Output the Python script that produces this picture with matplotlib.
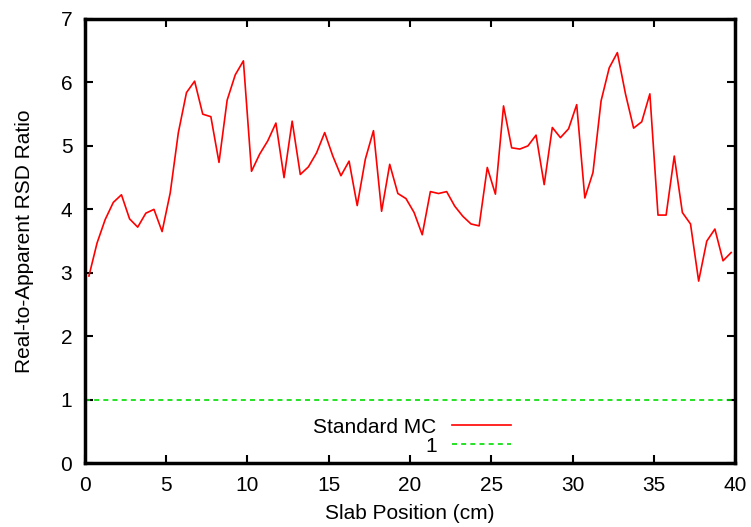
import numpy as np
import matplotlib.pyplot as plt

plt.rcParams['font.family'] = ['Liberation Sans', 'DejaVu Sans']

# slab bin centres (cm), 0.5 cm bins
slab_pos = np.arange(0.25, 40.0, 0.5)
standard_mc = [
    2.95, 3.47, 3.84, 4.11, 4.23, 3.85, 3.72, 3.94, 4.00, 3.65,
    4.26, 5.21, 5.84, 6.02, 5.50, 5.46, 4.74, 5.72, 6.12, 6.34,
    4.60, 4.87, 5.08, 5.36, 4.50, 5.39, 4.55, 4.67, 4.89, 5.21,
    4.84, 4.53, 4.76, 4.06, 4.79, 5.24, 3.97, 4.71, 4.25, 4.17,
    3.95, 3.60, 4.28, 4.25, 4.28, 4.05, 3.89, 3.77, 3.74, 4.66,
    4.24, 5.63, 4.97, 4.95, 5.00, 5.17, 4.39, 5.29, 5.13, 5.27,
    5.65, 4.18, 4.58, 5.71, 6.23, 6.47, 5.82, 5.28, 5.38, 5.82,
    3.91, 3.91, 4.84, 3.95, 3.77, 2.87, 3.50, 3.69, 3.19, 3.32,
]
reference_level = 1

fig = plt.figure(figsize=(7.51, 5.27), dpi=100)
ax = fig.add_axes([0.113, 0.121, 0.866, 0.843])

ax.plot(slab_pos, standard_mc, color='#ff0000', lw=1.2, label='Standard MC')
ax.axhline(reference_level, color='#00dd00', lw=1.2, ls=(0, (3, 2.5)),
           label='1')

ax.set_xlim(0, 40)
ax.set_ylim(0, 7)
ax.set_xticks(np.arange(0, 41, 5))
ax.set_yticks(np.arange(0, 8, 1))
ax.tick_params(direction='in', length=6, width=1.5, top=True, right=True,
               labelsize=15, pad=9)
for s in ax.spines.values():
    s.set_linewidth(2.5)

ax.set_xlabel('Slab Position (cm)', fontsize=15, labelpad=7)
ax.set_ylabel('Real-to-Apparent RSD Ratio', fontsize=15, labelpad=19)

ax.legend(loc='lower center', bbox_to_anchor=(0.503, -0.025),
          frameon=False, markerfirst=False, fontsize=15,
          handlelength=2.8, labelspacing=0.0, handletextpad=0.75)

fig.savefig('out.png', dpi=100)
